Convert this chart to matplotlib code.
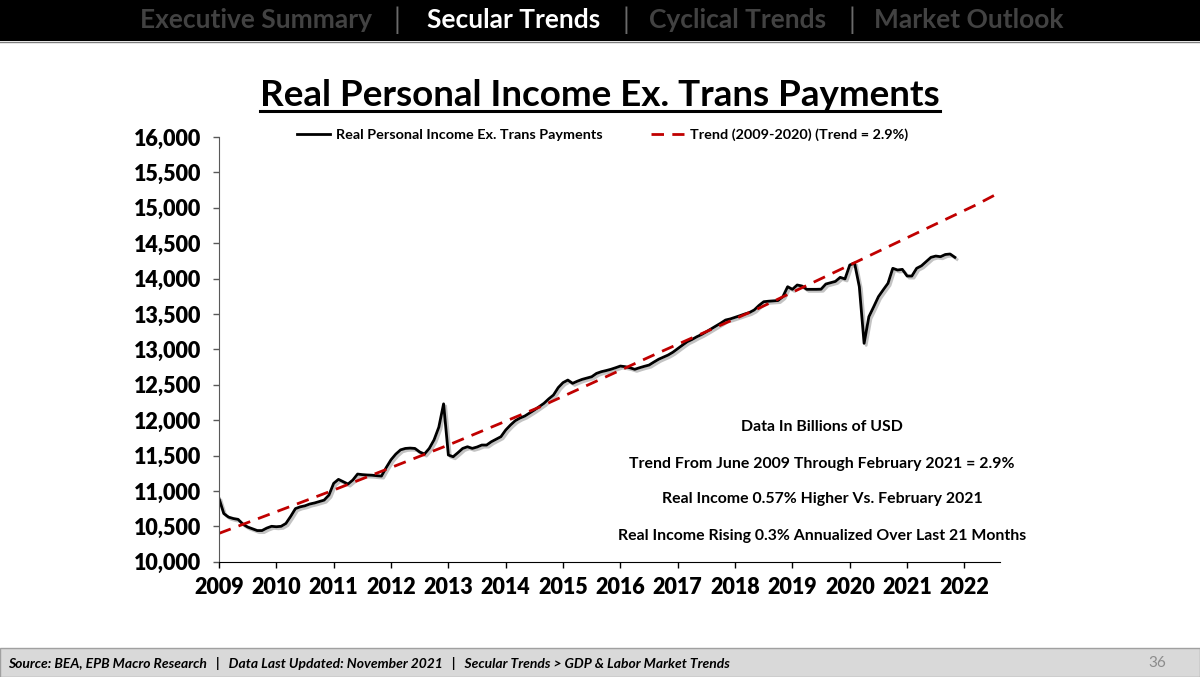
import matplotlib
matplotlib.use('Agg')
import matplotlib.pyplot as plt
import matplotlib.patheffects as pe
from matplotlib.lines import Line2D
from matplotlib.patches import Rectangle
from matplotlib.ticker import FuncFormatter, MultipleLocator
import pandas as pd

# monthly values, Jan 2009 .. Nov 2021 (billions of USD)
income = [
    10895, 10680, 10630, 10610, 10598, 10530, 10490, 10465, 10440, 10440, 10475, 10500,  # 2009
    10494, 10500, 10540, 10640, 10750, 10775, 10790, 10815, 10830, 10850, 10870, 10940,  # 2010
    11107, 11163, 11130, 11097, 11153, 11238, 11230, 11225, 11222, 11215, 11210, 11330,  # 2011
    11440, 11520, 11580, 11600, 11605, 11600, 11550, 11521, 11600, 11720, 11900, 12230,  # 2012
    11507, 11483, 11540, 11600, 11624, 11601, 11620, 11648, 11648, 11695, 11730, 11766,  # 2013
    11860, 11931, 11992, 12030, 12058, 12100, 12143, 12190, 12237, 12300, 12355, 12460,  # 2014
    12530, 12566, 12520, 12550, 12576, 12595, 12613, 12660, 12684, 12700, 12718, 12740,  # 2015
    12764, 12755, 12740, 12718, 12740, 12760, 12778, 12820, 12860, 12890, 12920, 12960,  # 2016
    13010, 13060, 13108, 13140, 13178, 13210, 13249, 13290, 13330, 13370, 13414, 13430,  # 2017
    13452, 13475, 13499, 13520, 13556, 13620, 13673, 13680, 13685, 13690, 13744, 13885,  # 2018
    13848, 13909, 13895, 13848, 13848, 13848, 13850, 13923, 13942, 13960, 14017, 13995,  # 2019
    14191, 14220, 13885, 13085, 13461, 13600, 13744, 13840, 13933, 14145, 14121, 14130,  # 2020
    14036, 14036, 14145, 14180, 14240, 14300, 14318, 14309, 14340, 14347, 14300,         # 2021
]
trend_years = [2009.0, 2011.0, 2013.0, 2014.58, 2016.67, 2018.41, 2020.1, 2022.2, 2022.6]
trend_values = [10400, 11012, 11648, 12181, 12953, 13579, 14230, 15040, 15210]

year_ticks = list(range(2009, 2023))
header_items = ['Executive Summary', 'Secular Trends', 'Cyclical Trends', 'Market Outlook']
header_x = [256, 514, 738, 969]
notes = [
    'Data In Billions of USD',
    'Trend From June 2009 Through February 2021 = 2.9%',
    'Real Income 0.57% Higher Vs. February 2021',
    'Real Income Rising 0.3% Annualized Over Last 21 Months',
]
notes_y = [427, 464, 499, 536]

plt.rcParams['font.family'] = ['Lato', 'DejaVu Sans']

W, H = 1200, 677
fig = plt.figure(figsize=(12, 6.77), dpi=100)
fig.patch.set_facecolor('white')

# header bar
fig.add_artist(Rectangle((0, 1 - 41 / H), 1, 41 / H, transform=fig.transFigure,
                         facecolor='black', edgecolor='none'))
fig.add_artist(Line2D([0, 1], [1 - 41.5 / H] * 2, color='#7f7f7f', lw=1))
for name, xp in zip(header_items, header_x):
    fig.text(xp / W, 1 - 20 / H, name, ha='center', va='center', fontsize=19,
             fontweight='bold', color='white' if name == 'Secular Trends' else '#424242')
for xp in [397, 626, 852]:
    fig.text(xp / W, 1 - 20 / H, '|', ha='center', va='center', fontsize=20,
             color='#6a6a6a')

# footer bar
fig.add_artist(Rectangle((0, 0), 1, 29 / H, transform=fig.transFigure,
                         facecolor='#d9d9d9', edgecolor='#a0a0a0', lw=1))
fig.text(8 / W, 14 / H,
         'Source: BEA, EPB Macro Research   |   Data Last Updated: November 2021   |   '
         'Secular Trends > GDP & Labor Market Trends',
         ha='left', va='center', fontsize=10, fontweight='bold', style='italic')
fig.text(1157 / W, 14 / H, '36', ha='center', va='center', fontsize=11, color='#8c8c8c')

# title
title = fig.text(600 / W, 1 - 95 / H, 'Real Personal Income Ex. Trans Payments',
                 ha='center', va='center', fontsize=26.5, fontweight='bold')

ax = fig.add_axes([219 / W, 1 - 561.7 / H, 781 / W, 424.7 / H])

dates = pd.date_range('2009-01-01', periods=len(income), freq='MS')
xs = dates.year + (dates.month - 1) / 12

ax.plot(xs, income, color='black', lw=2.0,
        label='Real Personal Income Ex. Trans Payments',
        path_effects=[pe.SimpleLineShadow(offset=(1.5, -1.5), shadow_color='#888888', alpha=0.5),
                      pe.Normal()])
ax.plot(trend_years, trend_values, color='#c00000', lw=2.0, dashes=(4.5, 3),
        label='Trend (2009-2020) (Trend = 2.9%)')

ax.set_xlim(2009, 2022.62)
ax.set_ylim(10000, 16000)
ax.set_xticks(year_ticks)
ax.set_xticklabels([str(y) for y in year_ticks])
ax.yaxis.set_major_locator(MultipleLocator(500))
ax.yaxis.set_major_formatter(FuncFormatter(lambda v, p: f'{v:,.0f}'))
for s in ['top', 'right']:
    ax.spines[s].set_visible(False)
ax.spines['left'].set_color('#595959')
ax.spines['bottom'].set_color('black')
ax.tick_params(axis='both', direction='out', length=4, width=1, labelsize=15.5)
ax.tick_params(axis='y', pad=9, colors='#595959', labelcolor='black')
ax.tick_params(axis='x', pad=7)
for lab in ax.get_xticklabels() + ax.get_yticklabels():
    lab.set_fontweight('heavy')

leg = ax.legend(loc='center', bbox_to_anchor=(0.491, 1.005), ncol=2, frameon=False,
                handlelength=2.3, handletextpad=0.35, columnspacing=3.4,
                prop={'weight': 'bold', 'size': 10.4})
for h in leg.get_lines():
    h.set_path_effects([])

for t, yp in zip(notes, notes_y):
    fig.text(822 / W, 1 - yp / H, t, ha='center', va='center',
             fontsize=11.4, fontweight='bold')

# underline the title
fig.canvas.draw()
bb = title.get_window_extent().transformed(fig.transFigure.inverted())
fig.add_artist(Line2D([bb.x0, bb.x1], [bb.y0 + 1 / H] * 2, color='black', lw=2.2))

fig.savefig('out.png', dpi=100)
